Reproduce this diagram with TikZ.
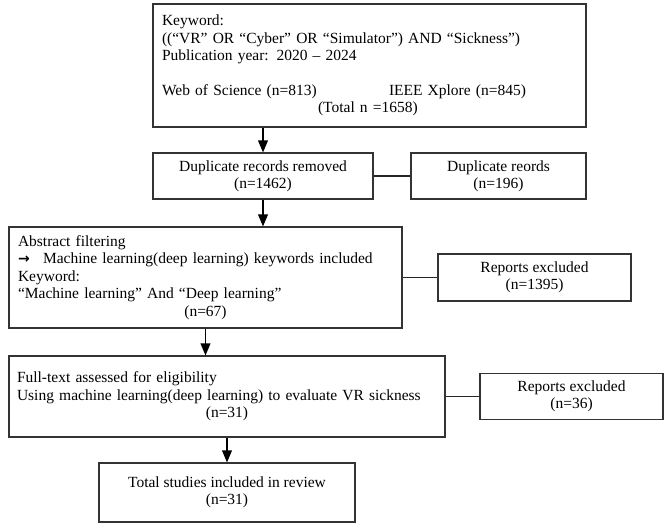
\documentclass[tikz,border=0pt]{standalone}
\usepackage{fontspec}
\setmainfont{Liberation Serif}
\newfontfamily\arrowfont{DejaVu Sans}
\usepackage{tikz}
\usetikzlibrary{shapes,arrows}
\tikzset{
  block/.style    = {draw=black!80, line width=1.2pt, rectangle, inner sep=0pt, align=center,
                     font=\fontsize{15.5}{17.4}\selectfont},
  textblock/.style= {block, align=left, inner xsep=9pt},
  link/.style     = {draw=black!85, line width=1.4pt},
  flow/.style     = {->, draw=black, line width=1.8pt}
}

\begin{document}
\begin{tikzpicture}[auto, x=1pt, y=1pt, node distance=235.5pt, >=triangle 45]
\useasboundingbox (0,0) rectangle (664,-523);

% Search
\draw node [textblock, text width=415pt, minimum width=433pt, minimum height=123pt] (kw) at (369.5,-65.5)
  {Keyword:\\
   ((“VR” OR “Cyber” OR “Simulator”) AND “Sickness”)\\
   Publication year: 2020 – 2024\\
   ~\\
   \makebox[227pt][l]{Web of Science (n=813)}IEEE Xplore (n=845)\\
   \hspace*{156pt}(Total n =1658)};

% Screening
\draw node [block, minimum width=220pt, minimum height=46pt] (dup) at (263,-176) {Duplicate records removed\\(n=1462)};
\draw node [block, right of=dup, minimum width=175pt, minimum height=46pt] (dupx) {Duplicate reords\\(n=196)};

\draw node [textblock, text width=375pt, minimum width=393pt, minimum height=101pt] (abs) at (205.5,-277.5)
  {Abstract filtering\\
   \makebox[25pt][l]{\arrowfont\bfseries\fontsize{14}{14}\selectfont →}Machine learning(deep learning) keywords included\\
   Keyword:\\
   “Machine learning” And “Deep learning”\\
   \makebox[375pt]{(n=67)}};
\draw node [block, right of=abs, node distance=329pt, minimum width=193pt, minimum height=47pt] (exc1) {Reports excluded\\(n=1395)};

% Eligibility
\draw node [textblock, text width=420pt, inner xsep=8pt, minimum width=436pt, minimum height=81pt] (full) at (227,-396.5)
  {Full-text assessed for eligibility\\
   Using machine learning(deep learning) to evaluate VR sickness\\
   \makebox[420pt]{(n=31)}};
\draw node [block, right of=full, node distance=344.5pt, minimum width=183pt, minimum height=46pt] (exc2) {Reports excluded\\(n=36)};

% Included
\draw node [block, minimum width=256pt, minimum height=59pt] (tot) at (227,-492.5) {Total studies included in review\\(n=31)};

% Connections
\draw[flow] (kw.south -| dup.north) -- (dup.north);
\draw[flow] (dup.south) -- (dup.south |- abs.north);
\draw[flow] (abs.south) -- (abs.south |- full.north);
\draw[flow] (full.south) -- (tot.north);
\draw[link] (dup.east) -- (dupx.west);
\draw[link] (abs.east) -- (exc1.west);
\draw[link] (full.east) -- (exc2.west);

\end{tikzpicture}
\end{document}
